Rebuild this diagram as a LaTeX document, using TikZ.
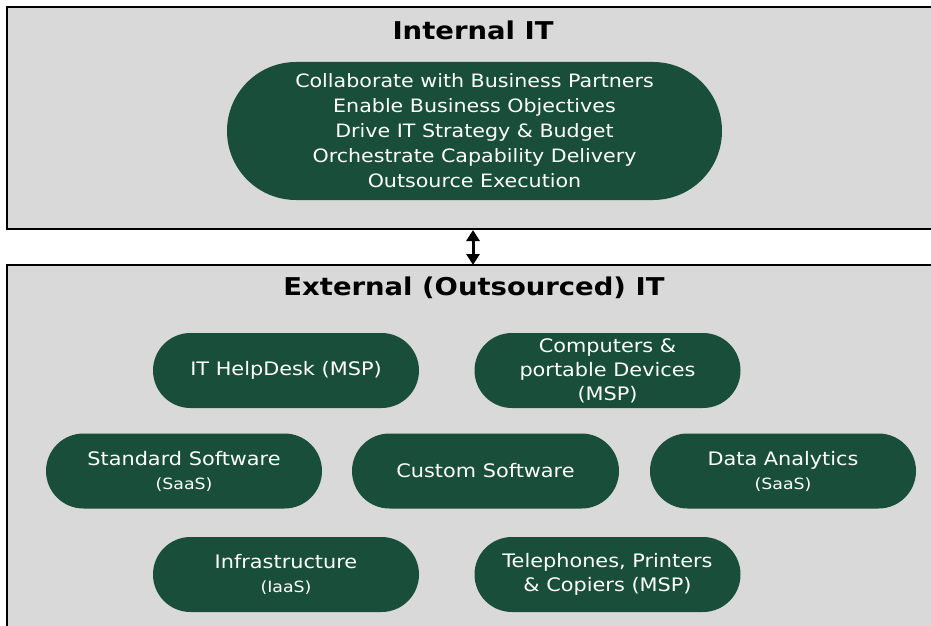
\documentclass[tikz,border=0pt]{standalone}
\usepackage{fontspec}
\setmainfont{DejaVu Sans}[FakeStretch=1.12]
\usetikzlibrary{shapes.misc,arrows.meta}
\definecolor{boxgray}{HTML}{D9D9D9}
\definecolor{pillgreen}{HTML}{184E3A}
\tikzset{
  pill/.style={rounded rectangle, fill=pillgreen, text=white, align=center,
    inner sep=0pt, font=\fontsize{18.6}{24}\selectfont},
  smallpill/.style={pill, minimum width=266pt, minimum height=75pt},
  panel/.style={draw=black, line width=2pt, fill=boxgray},
  paneltitle/.style={font=\fontsize{24.5}{28}\selectfont\bfseries}
}
\newcommand{\subtxt}[1]{{\fontsize{15.5}{18}\selectfont #1}}
\begin{document}
\begin{tikzpicture}[x=1pt,y=-1pt]
\useasboundingbox (0,0) rectangle (931,626);
\clip (0,0) rectangle (931,626);
\draw[panel] (7,7) rectangle (945,229);
\draw[panel] (7,265) rectangle (945,640);
\node[paneltitle] (tint) at (473,30) {Internal IT};
\node[paneltitle] (text) at (474,288) {External (Outsourced) IT};
\node[pill, minimum width=495pt, minimum height=138pt, font=\fontsize{18.4}{25}\selectfont] (core) at (474.5,131)
  {Collaborate with Business Partners\\Enable Business Objectives\\Drive IT Strategy \& Budget\\Orchestrate Capability Delivery\\Outsource Execution};
\coordinate (atop) at (473,230);
\coordinate (abot) at (473,265);
\draw[line width=3pt, {Triangle[width=13pt,length=11pt]}-{Triangle[width=13pt,length=11pt]}] (atop) -- (abot);
\node[smallpill] (help) at (286,370.5) {IT HelpDesk (MSP)};
\node[smallpill] (comp) at (607.5,370.5) {Computers \&\\portable Devices\\(MSP)};
\node[smallpill, minimum width=276pt] (std) at (184,471) {Standard Software\\\subtxt{(SaaS)}};
\node[smallpill, minimum width=267pt] (cust) at (485.5,471) {Custom Software};
\node[smallpill] (data) at (783,471) {Data Analytics\\\subtxt{(SaaS)}};
\node[smallpill] (infra) at (286,574.5) {Infrastructure\\\subtxt{(IaaS)}};
\node[smallpill] (tel) at (607.5,574.5) {Telephones, Printers\\\& Copiers (MSP)};
\end{tikzpicture}
\end{document}
